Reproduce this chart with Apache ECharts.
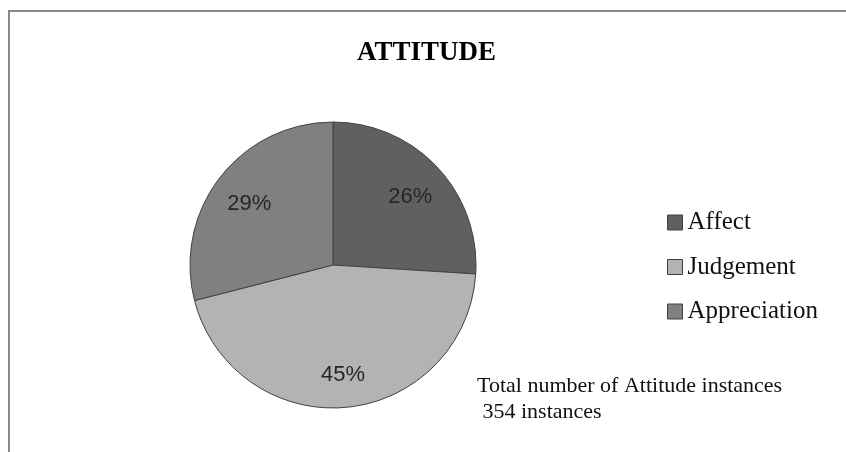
<!DOCTYPE html>
<html>
<head>
<meta charset="utf-8">
<script src="https://cdn.jsdelivr.net/npm/echarts@6/dist/echarts.min.js"></script>
<style>
html,body{margin:0;padding:0;background:#fff;}
#chart{width:846px;height:452px;}
</style>
</head>
<body>
<div id="chart"></div>
<script>
const categories = ['Affect', 'Judgement', 'Appreciation'];
const percentValues = [26, 45, 29];
const sliceColors = ['#606060', '#b3b3b3', '#808080'];
const titleText = 'ATTITUDE';
const noteLines = ['Total number of Attitude instances', ' 354 instances'];

const pieData = categories.map((name, i) => ({
  name: name,
  value: percentValues[i],
  itemStyle: { color: sliceColors[i] }
}));

const chart = echarts.init(document.getElementById('chart'), null, { renderer: 'canvas' });
chart.setOption({
  backgroundColor: '#ffffff',
  animation: false,
  title: {
    text: titleText,
    left: 357,
    top: 40,
    padding: 0,
    textStyle: {
      fontFamily: 'Liberation Serif',
      fontWeight: 'bold',
      fontSize: 27,
      color: '#000000'
    }
  },
  legend: {
    orient: 'vertical',
    left: 667,
    top: 210,
    padding: 0,
    itemWidth: 15,
    itemHeight: 15,
    itemGap: 19.5,
    icon: 'rect',
    data: categories,
    itemStyle: { borderColor: '#404040', borderWidth: 1 },
    textStyle: {
      fontFamily: 'Liberation Serif',
      fontSize: 25,
      lineHeight: 25,
      color: '#111111'
    }
  },
  graphic: [
    {
      type: 'rect',
      silent: true,
      shape: { x: 9, y: 11, width: 1000, height: 1000 },
      style: { fill: 'none', stroke: '#8a8a8a', lineWidth: 2 }
    },
    {
      type: 'text',
      left: 477,
      top: 373,
      silent: true,
      style: {
        text: noteLines.join('\n'),
        fontFamily: 'Liberation Serif',
        fontSize: 22,
        lineHeight: 26,
        fill: '#111111'
      }
    }
  ],
  series: [
    {
      type: 'pie',
      center: [333, 265],
      radius: 143,
      startAngle: 90,
      clockwise: true,
      silent: true,
      label: { show: false },
      labelLine: { show: false },
      itemStyle: { borderColor: '#424242', borderWidth: 1 },
      emphasis: { disabled: true },
      data: pieData
    },
    {
      type: 'pie',
      center: [333, 265],
      radius: [63, 143],
      startAngle: 90,
      clockwise: true,
      silent: true,
      legendHoverLink: false,
      itemStyle: { color: 'rgba(0,0,0,0)', borderWidth: 0 },
      label: {
        show: true,
        position: 'inside',
        formatter: '{c}%',
        fontFamily: 'Liberation Sans',
        fontSize: 22,
        color: '#262626',
        offset: [0, 4]
      },
      labelLine: { show: false },
      emphasis: { disabled: true },
      data: categories.map((name, i) => ({ name: name, value: percentValues[i] }))
    }
  ]
});
</script>
</body>
</html>
